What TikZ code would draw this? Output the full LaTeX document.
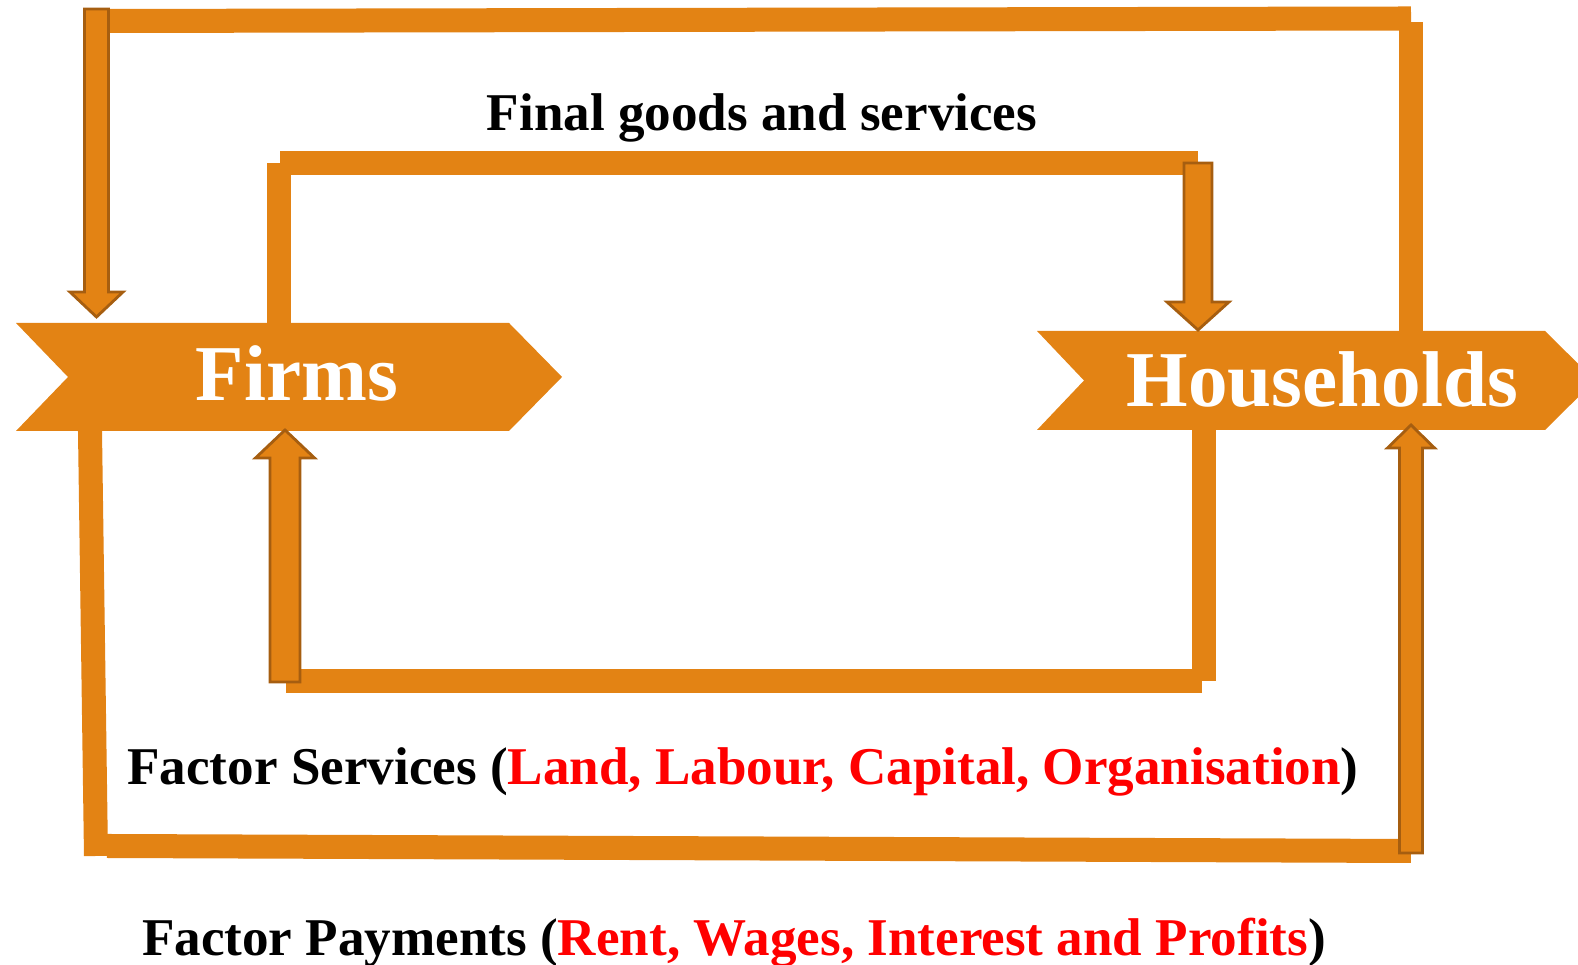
\documentclass[tikz,border=0pt]{standalone}
\usepackage{fontspec}
\setmainfont{Liberation Serif}
\definecolor{flow}{RGB}{227,131,20}
\definecolor{flowedge}{RGB}{166,94,16}
\newcommand{\flowarrow}[6]{%
  \filldraw[blockarrow] (#1-#5,#2) -- (#1-#5,#3) -- (#1-#6,#3) -- (#1,#4)
    -- (#1+#6,#3) -- (#1+#5,#3) -- (#1+#5,#2) -- cycle;}
\begin{document}
\begin{tikzpicture}[x=0.01cm, y=-0.01cm,
  band/.style={draw=flow, line width=0.24cm},
  blockarrow/.style={fill=flow, draw=flowedge, line width=0.8pt, line join=miter},
  sector/.style={fill=flow},
  sectorname/.style={text=white, inner sep=0pt, anchor=base, font=\fontsize{22.5}{27}\selectfont\bfseries},
  flowlabel/.style={inner sep=0pt, anchor=base, font=\fontsize{15.1}{18}\selectfont\bfseries}]
\clip (0,0) rectangle (1578,965);
% the two sectors
\fill[sector] (16,323) -- (509,323) -- (562,377) -- (509,431) -- (16,431) -- (68,377) -- cycle;
\fill[sector] (1037,331) -- (1545,331) -- (1595,380.5) -- (1545,430) -- (1037,430) -- (1084,380.5) -- cycle;
\node[sectorname] (firms) at (297,400.5) {Firms};
\node[sectorname] (hh) at (1322.5,406.5) {Households};
\coordinate (fTop) at (279,323);
\coordinate (fBot) at (90,431);
\coordinate (hTop) at (1410.5,331);
\coordinate (hBot) at (1203.5,430);
% goods: firms to households
\draw[band] (fTop) -- (279,163);
\draw[band] (280,163) -- (1198,163);
\flowarrow{1198}{163}{302}{330}{14}{31}
% factor services: households to firms
\draw[band] (hBot) -- (1203.5,681);
\draw[band] (1202,681) -- (286,681);
\flowarrow{285}{682}{458}{430}{15}{29.5}
% factor payments: firms to households
\draw[band] (fBot) -- (96,856);
\draw[band] (107,846) -- (1411,851);
\flowarrow{1411}{853}{448}{425}{11.5}{23.5}
% outer loop: households to firms
\draw[band] (hTop) -- (1410.5,22);
\draw[band] (1411,18.5) -- (109,21);
\flowarrow{96.5}{9}{292}{317}{12}{26.5}
% labels
\node[flowlabel] (goods) at (762,131) {Final goods and services};
\node[flowlabel] (services) at (743,785) {Factor Services (\textcolor{red}{Land, Labour, Capital, Organisation})};
\node[flowlabel] (payments) at (734,956) {Factor Payments (\textcolor{red}{Rent, Wages, Interest and Profits})};
\end{tikzpicture}
\end{document}
